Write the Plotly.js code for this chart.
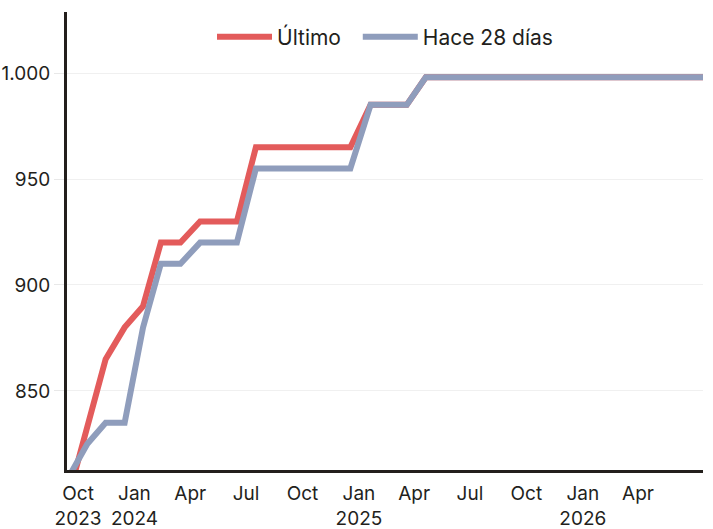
<!DOCTYPE html>
<html>
<head>
<meta charset="utf-8">
<script src="https://cdn.plot.ly/plotly-3.0.1.min.js"></script>
<style>
html,body{margin:0;padding:0;background:#fff;}
#chart{width:713px;height:529px;}
</style>
</head>
<body>
<div id="chart"></div>
<script>
const dates = [
  "2023-09-17","2023-10-16","2023-11-15","2023-12-16","2024-01-15","2024-02-13",
  "2024-03-16","2024-04-17","2024-05-17","2024-06-16","2024-07-17","2024-08-17",
  "2024-09-17","2024-10-17","2024-11-17","2024-12-18","2025-01-20","2025-02-18",
  "2025-03-20","2025-04-20","2025-05-18","2025-06-18","2025-07-18","2025-08-18",
  "2025-09-18","2025-10-18","2025-11-18","2025-12-18","2026-01-18","2026-02-18",
  "2026-03-18","2026-04-18","2026-05-18","2026-06-18","2026-07-16"
];
const ultimo = [
  802, 832, 865, 880, 890, 920,
  920, 930, 930, 930, 965, 965,
  965, 965, 965, 965, 985, 985,
  985, 998, 998, 998, 998, 998,
  998, 998, 998, 998, 998, 998,
  998, 998, 998, 998, 998
];
const hace28 = [
  810, 825, 835, 835, 880, 910,
  910, 920, 920, 920, 955, 955,
  955, 955, 955, 955, 985, 985,
  985, 998, 998, 998, 998, 998,
  998, 998, 998, 998, 998, 998,
  998, 998, 998, 998, 998
];
const seriesNames = ["Último\u00a0\u00a0", "Hace 28 días"];
const yTicks = [850, 900, 950, 1000];
const xTickVals = ["2023-10-01","2024-01-01","2024-04-01","2024-07-01","2024-10-01",
  "2025-01-01","2025-04-01","2025-07-01","2025-10-01","2026-01-01","2026-04-01"];
const xTickText = ["Oct<br>2023","Jan<br>2024","Apr","Jul","Oct",
  "Jan<br>2025","Apr","Jul","Oct","Jan<br>2026","Apr"];

const font = "Inter, 'Open Sans', sans-serif";
const traces = [
  {x: dates, y: ultimo, name: seriesNames[0], type: "scatter", mode: "lines",
   line: {color: "#e35b5b", width: 6}},
  {x: dates, y: hace28, name: seriesNames[1], type: "scatter", mode: "lines",
   line: {color: "#8f9dbc", width: 6}}
];
const layout = {
  width: 713, height: 529,
  margin: {l: 67, r: 10, t: 12, b: 59},
  paper_bgcolor: "#fff", plot_bgcolor: "#fff",
  separators: ",.",
  font: {family: font, size: 19, color: "#231f1c"},
  showlegend: true,
  legend: {orientation: "h", x: 0.5, xanchor: "center", y: 0.945, yanchor: "middle",
           itemwidth: 55, font: {size: 21, color: "#231f1c"}, bgcolor: "rgba(0,0,0,0)"},
  xaxis: {
    type: "date",
    range: ["2023-09-13", "2026-07-16"],
    tickvals: xTickVals, ticktext: xTickText,
    showgrid: false, zeroline: false,
    showline: true, linecolor: "#231f1c", linewidth: 3,
    ticks: "", ticklabelstandoff: 4,
    tickfont: {size: 19, color: "#231f1c"}
  },
  yaxis: {
    range: [812.7, 1028.8],
    tickvals: yTicks,
    tickformat: ",d",
    showgrid: true, gridcolor: "#f0f0f0", gridwidth: 1,
    zeroline: false,
    showline: true, linecolor: "#231f1c", linewidth: 3,
    ticks: "outside", ticklen: 10, tickcolor: "#e8e8e8", tickwidth: 1,
    tickfont: {size: 19, color: "#231f1c"}
  }
};
Plotly.newPlot("chart", traces, layout, {displayModeBar: false, staticPlot: true});
</script>
</body>
</html>
